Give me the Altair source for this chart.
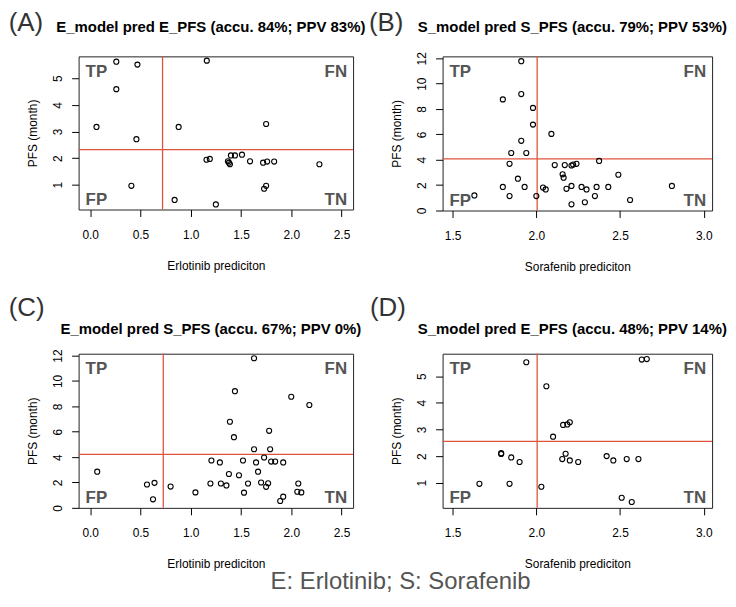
import altair as alt
import pandas as pd

FONT = "Liberation Sans"
RED = "#E0533A"
QUAD = "#555555"

# ---------------- data ----------------
A_x = [0.063, 0.26, 0.26, 0.47, 0.46, 0.41, 1.16, 0.88, 0.84, 1.25, 1.157, 1.19, 1.37, 1.38, 1.39,
       1.40, 1.44, 1.51, 1.59, 1.72, 1.76, 1.83, 1.75, 1.75, 1.73, 2.28]
A_y = [3.17, 5.62, 4.59, 5.51, 2.71, 0.96, 5.66, 3.17, 0.43, 0.26, 1.94, 1.97, 1.88, 1.83, 1.77,
       2.10, 2.10, 2.13, 1.88, 1.83, 1.87, 1.87, 3.28, 0.96, 0.85, 1.77]

B_x = [1.91, 1.80, 1.91, 1.98, 1.98, 2.09, 1.91, 1.85, 1.94, 1.84, 2.375, 1.89, 1.80, 1.93, 1.84,
       1.63, 2.00, 2.04, 2.056, 2.11, 2.17, 2.21, 2.22, 2.24, 2.157, 2.163, 2.18, 2.21, 2.21, 2.27,
       2.30, 2.29, 2.36, 2.35, 2.43, 2.49, 2.56, 2.81]
B_y = [11.77, 8.76, 9.18, 8.09, 6.77, 6.04, 5.49, 4.53, 4.53, 3.68, 3.91, 2.51, 1.86, 1.86, 1.14,
       1.19, 1.14, 1.81, 1.66, 3.58, 3.58, 3.55, 3.62, 3.68, 2.85, 2.59, 1.71, 1.94, 0.49, 1.86,
       1.66, 0.65, 1.86, 1.14, 1.86, 2.82, 0.83, 1.94]

C_x = [0.07, 0.565, 0.64, 0.625, 0.80, 1.047, 1.196, 1.206, 1.29, 1.30, 1.355, 1.38, 1.43, 1.39,
       1.48, 1.52, 1.53, 1.57, 1.63, 1.65, 1.67, 1.70, 1.73, 1.75, 1.77, 1.78, 1.79, 1.80, 1.84,
       1.92, 1.92, 1.89, 2.07, 2.06, 2.10, 1.63, 1.44, 2.00, 2.18]
C_y = [2.85, 1.84, 1.97, 0.67, 1.68, 1.22, 1.92, 3.73, 3.58, 1.92, 1.77, 2.67, 5.57, 6.79,
       2.57, 3.73, 1.20, 1.92, 4.62, 3.58, 2.85, 2.00, 3.97, 1.66, 1.94, 6.07, 4.62, 3.65, 3.65,
       3.58, 0.88, 0.54, 1.92, 1.27, 1.22, 11.79, 9.20, 8.76, 8.11]

D_x = [1.66, 1.79, 1.79, 1.85, 1.84, 1.90, 1.94, 2.03, 2.06, 2.10, 2.16, 2.185, 2.20, 2.175, 2.155,
       2.20, 2.25, 2.42, 2.46, 2.54, 2.61, 2.51, 2.57, 2.63, 2.66]
D_y = [0.96, 2.11, 2.08, 1.95, 0.96, 1.78, 5.52, 0.85, 4.62, 2.73, 3.17, 3.19, 3.27, 2.09, 1.89,
       1.84, 1.78, 2.00, 1.84, 1.89, 1.89, 0.44, 0.28, 5.62, 5.64]

# thresholds (vertical, horizontal red lines)
A_thr = [0.72, 2.32]
B_thr = [2.005, 4.07]
C_thr = [0.727, 4.22]
D_thr = [2.005, 2.55]

TITLES = [
    "E_model pred E_PFS (accu. 84%; PPV 83%)",
    "S_model pred S_PFS (accu. 79%; PPV 53%)",
    "E_model pred S_PFS (accu. 67%; PPV 0%)",
    "S_model pred E_PFS (accu. 48%; PPV 14%)",
]
LETTERS = ["(A)", "(B)", "(C)", "(D)"]
QUAD_LABELS = ["TP", "FN", "FP", "TN"]
E_TICKS = [0.0, 0.5, 1.0, 1.5, 2.0, 2.5]
S_TICKS = [1.5, 2.0, 2.5, 3.0]
Y_TICKS_SMALL = [1, 2, 3, 4, 5]
Y_TICKS_BIG = [0, 2, 4, 6, 8, 10, 12]
E_LABEL = "Erlotinib prediciton"
S_LABEL = "Sorafenib prediciton"
Y_LABEL = "PFS (month)"
FOOTER = "E: Erlotinib; S: Sorafenib"


def txt(s, x, y, size, color="black", weight="normal", align="left", baseline="alphabetic"):
    return alt.Chart(pd.DataFrame({"t": [s]})).mark_text(
        font=FONT, fontSize=size, color=color, fontWeight=weight, align=align, baseline=baseline
    ).encode(text="t:N", x=alt.value(x), y=alt.value(y))


def panel(xs, ys, thr, xdom, ydom, xticks, yticks, xfmt, yfmt, xtitle, title, letter,
          w, h, letter_x, letter_y, title_y, extra=None):
    df = pd.DataFrame({"x": xs, "y": ys})
    xs_ = alt.Scale(domain=xdom, nice=False, zero=False)
    ys_ = alt.Scale(domain=ydom, nice=False, zero=False)
    xaxis = alt.Axis(values=xticks, format=xfmt, title=xtitle, domain=False, grid=False,
                     tickSize=7, tickColor="black", labelPadding=13, labelFontSize=12,
                     labelFont=FONT, labelColor="black", labelFlush=False, labelOverlap=False,
                     titleFont=FONT, titleFontSize=12, titleFontWeight="normal", titleColor="black",
                     titleX=w / 2, titleY=60, titleBaseline="alphabetic", titleAlign="center")
    yaxis = alt.Axis(values=yticks, format=yfmt, title=Y_LABEL, domain=False, grid=False,
                     tickSize=7, tickColor="black", labelPadding=10.5, labelFontSize=12,
                     labelFont=FONT, labelColor="black", labelAngle=270, labelAlign="center",
                     labelBaseline="alphabetic", labelFlush=False, labelOverlap=False,
                     titleFont=FONT, titleFontSize=12, titleFontWeight="normal", titleColor="black",
                     titleAngle=270, titleX=-42.5, titleY=h / 2, titleBaseline="alphabetic",
                     titleAlign="center")
    pts = alt.Chart(df).mark_point(shape="circle", filled=False, color="black", size=26,
                                   strokeWidth=1.1, opacity=1).encode(
        x=alt.X("x:Q", scale=xs_, axis=xaxis),
        y=alt.Y("y:Q", scale=ys_, axis=yaxis),
    )
    vr = alt.Chart(pd.DataFrame({"x": [thr[0]]})).mark_rule(color=RED, strokeWidth=1.3).encode(
        x=alt.X("x:Q", scale=xs_, axis=xaxis))
    hr = alt.Chart(pd.DataFrame({"y": [thr[1]]})).mark_rule(color=RED, strokeWidth=1.3).encode(
        y=alt.Y("y:Q", scale=ys_, axis=yaxis))
    layers = [vr, hr, pts,
              txt(QUAD_LABELS[0], 7, 20.5, 17, QUAD, "bold", "left"),
              txt(QUAD_LABELS[1], w - 6, 20.5, 17, QUAD, "bold", "right"),
              txt(QUAD_LABELS[2], 7, h - 4.5, 17, QUAD, "bold", "left"),
              txt(QUAD_LABELS[3], w - 6, h - 4.5, 17, QUAD, "bold", "right"),
              txt(title, w / 2 - 5, title_y, 15, "black", "bold", "center"),
              txt(letter, letter_x, letter_y, 26, "#333333", "normal", "left")]
    if extra is not None:
        layers.append(extra)
    return alt.layer(*layers).properties(
        width=w, height=h, view=alt.ViewBackground(stroke="#222222", strokeWidth=1))


pA = panel(A_x, A_y, A_thr, [-0.115, 2.615], [0.07, 5.82], E_TICKS, Y_TICKS_SMALL, ".1f", "d",
           E_LABEL, TITLES[0], LETTERS[0], 276, 154, -70.3, -25.3, -24.5)
pB = panel(B_x, B_y, B_thr, [1.44, 3.05], [0.0, 12.15], S_TICKS, Y_TICKS_BIG, ".1f", "d",
           S_LABEL, TITLES[1], LETTERS[1], 271, 155, -74, -25.3, -24.5)
pC = panel(C_x, C_y, C_thr, [-0.115, 2.615], [0.0, 12.15], E_TICKS, Y_TICKS_BIG, ".1f", "d",
           E_LABEL, TITLES[2], LETTERS[2], 276, 155, -70.3, -38, -19.5)
pD = panel(D_x, D_y, D_thr, [1.44, 3.05], [0.06, 5.84], S_TICKS, Y_TICKS_SMALL, ".1f", "d",
           S_LABEL, TITLES[3], LETTERS[3], 271, 155, -73, -38, -19.5,
           extra=txt(FOOTER, -42.3, 237, 24, "#555555", "normal", "center"))

chart = alt.concat(pA, pB, pC, pD, columns=2, spacing={"row": 144, "column": 90},
                   bounds="flush").properties(padding=0).configure_view(
    stroke="#222222", strokeWidth=1).configure(background="white")

chart.save("out.html", embed_options={"renderer": "svg", "actions": False})
